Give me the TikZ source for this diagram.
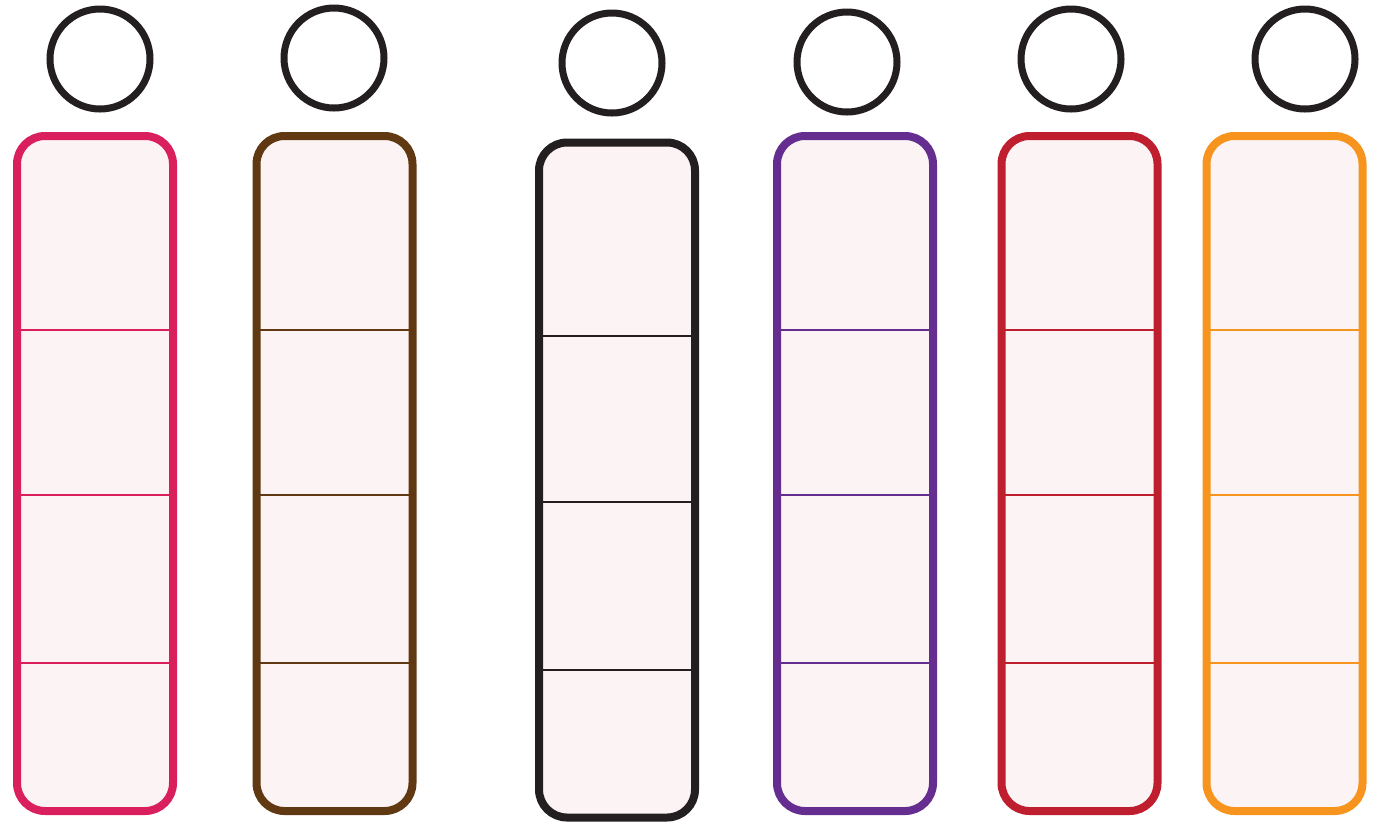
\documentclass[tikz,border=0pt]{standalone}
\usepackage{tikz}
\usetikzlibrary{calc}
\definecolor{colpink}{HTML}{DA1F5E}
\definecolor{colbrown}{HTML}{603913}
\definecolor{colblack}{HTML}{231F20}
\definecolor{colpurple}{HTML}{662D91}
\definecolor{colred}{HTML}{BE1E2D}
\definecolor{colorange}{HTML}{F7941D}
\definecolor{cellfill}{HTML}{FCF3F4}
\tikzset{
    column/.style={rectangle, draw, line width=4pt, rounded corners=14pt, fill=cellfill, minimum width=78pt, minimum height=337.5pt, inner sep=0pt, outer sep=0pt},
    head/.style={circle, draw=colblack, line width=3.5pt, minimum size=50pt, inner sep=0pt},
    divider/.style={line width=1.1pt}
}
\begin{document}
\begin{tikzpicture}[x=0.5pt, y=-0.5pt]
    \useasboundingbox (0,0) rectangle (1379,821);
    \foreach \name/\x/\y/\hx/\hy/\col in {pink/95/473.5/100/59/colpink, brown/334.5/473.5/334/58/colbrown, black/617/480/612/63/colblack, purple/855/473.5/847/62/colpurple, red/1079.5/473.5/1071/59/colred, orange/1284.5/473.5/1305/59/colorange}{
        \node[head] (head\name) at (\hx,\hy) {};
        \node[column, draw=\col] (col\name) at (\x,\y) {};
        \foreach \f in {0.287, 0.532, 0.781}
            \draw[divider, \col] ($(col\name.north west)!\f!(col\name.south west)$) -- ($(col\name.north east)!\f!(col\name.south east)$);
    }
\end{tikzpicture}
\end{document}
